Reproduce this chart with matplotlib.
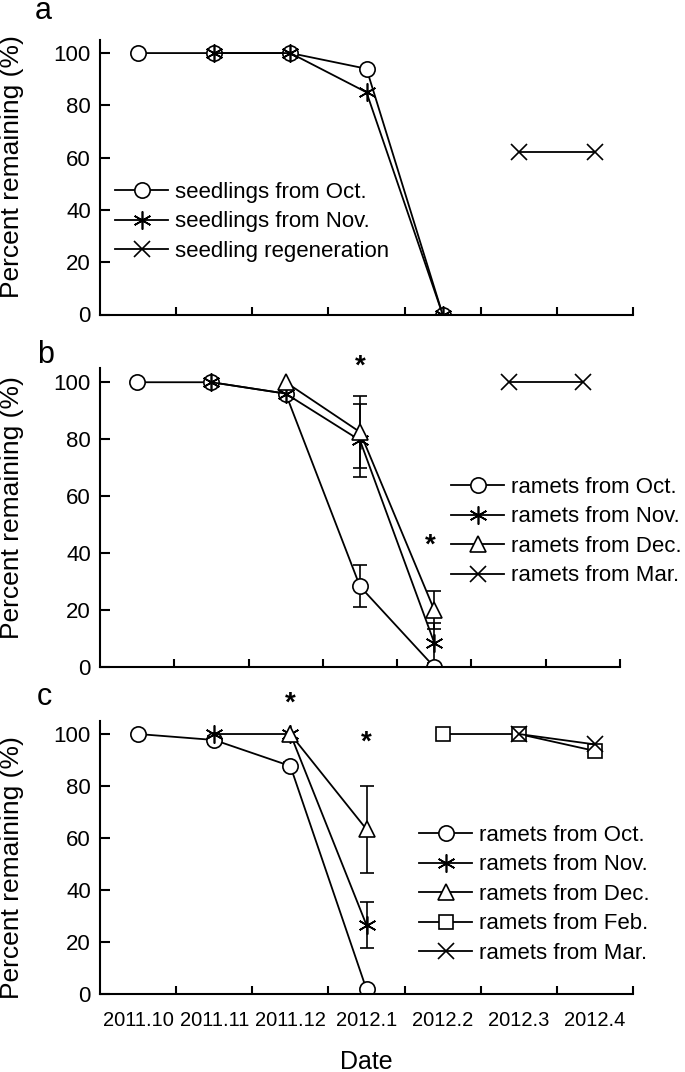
import numpy as np
import matplotlib
matplotlib.use("Agg")
import matplotlib.pyplot as plt

plt.rcParams["font.family"] = ["Liberation Sans", "DejaVu Sans"]

nan = np.nan

# ====== data ======
months = ["2011.10", "2011.11", "2011.12", "2012.1", "2012.2", "2012.3", "2012.4"]

# panel a: seedlings
a_oct = [100, 100, 100, 94, 0, nan, nan]
a_nov = [nan, 100, 100, 85, 0, nan, nan]
a_regen = [nan, nan, nan, nan, nan, 62, 62]

# panel b: ramets
b_oct = [100, 100, 96, 28.3, 0, nan, nan]
b_oct_err = [0, 0, 0, 7.4, 0, 0, 0]
b_nov = [nan, 100, 96, 79.6, 8.5, nan, nan]
b_nov_err = [0, 0, 0, 12.8, 7.0, 0, 0]
b_dec = [nan, nan, 100, 82.5, 20, nan, nan]
b_dec_err = [0, 0, 0, 12.5, 6.6, 0, 0]
b_mar = [nan, nan, nan, nan, nan, 100, 100]

# panel c: ramets
c_oct = [100, 97.7, 87.7, 1.9, nan, nan, nan]
c_oct_err = [0, 1.5, 1.5, 1.0, 0, 0, 0]
c_nov = [nan, 100, 100, 26.6, nan, nan, nan]
c_nov_err = [0, 0, 0, 9.0, 0, 0, 0]
c_dec = [nan, nan, 100, 63.4, nan, nan, nan]
c_dec_err = [0, 0, 0, 16.7, 0, 0, 0]
c_feb = [nan, nan, nan, nan, 100, 100, 93.5]
c_feb_err = [0, 0, 0, 0, 0, 0, 1.5]
c_mar = [nan, nan, nan, nan, nan, 100, 96]

# significance marks (x index, y value)
b_sig = [(3.5, 105.5), (4.45, 42.7)]
c_sig = [(2.5, 111.7), (3.5, 96.7)]

W, H = 685, 1072
fig = plt.figure(figsize=(W / 100, H / 100), dpi=100)

def box(x0, y0, x1, y1):
    return [x0 / W, 1 - y1 / H, (x1 - x0) / W, (y1 - y0) / H]

ax_a = fig.add_axes(box(100, 40, 633, 314.5))
ax_b = fig.add_axes(box(100, 368, 620, 667))
ax_c = fig.add_axes(box(100, 721, 633, 994.3))

x = np.arange(len(months)) + 0.5
STAR = (6, 2, 0)
sty = dict(color="black", lw=1.3, mec="black", mfc="white", mew=1.2)
mk = {"o": dict(marker="o", ms=11), "*": dict(marker=STAR, ms=13),
      "^": dict(marker="^", ms=12), "s": dict(marker="s", ms=10.5),
      "x": dict(marker="x", ms=12)}

def series(ax, y, m, label, err=None):
    y = np.array(y, dtype=float)
    if err is not None:
        e = np.array(err, dtype=float)
        ok = (e > 0) & ~np.isnan(y)
        ax.errorbar(x[ok], y[ok], yerr=e[ok], fmt="none", ecolor="black",
                    elinewidth=1.2, capsize=5, capthick=1.2, zorder=1.5)
    ax.plot(x, y, label=label, **sty, **mk[m])

def style(ax, show_x=False):
    ax.set_xlim(0, 7)
    ax.set_ylim(0, 105)
    for s in ["top", "right"]:
        ax.spines[s].set_visible(False)
    for s in ["left", "bottom"]:
        ax.spines[s].set_linewidth(1.5)
    ax.set_yticks([0, 20, 40, 60, 80, 100])
    ax.tick_params(axis="y", direction="in", length=7, width=1.5,
                   labelsize=16, pad=6.5)
    ax.set_xticks(x)
    ax.set_xticks(np.arange(1, 8), minor=True)
    ax.tick_params(axis="x", which="major", length=0, labelsize=14.5, pad=12)
    ax.tick_params(axis="x", which="minor", direction="in", length=5.5, width=1.5)
    if show_x:
        ax.set_xticklabels(months)
    else:
        ax.set_xticklabels([])

leg_kw = dict(frameon=False, fontsize=16, handlelength=2.4, handletextpad=0.3,
              labelspacing=0.38, borderpad=0, borderaxespad=0, loc="upper left",
              bbox_transform=fig.transFigure)

# panel a
series(ax_a, a_oct, "o", "seedlings from Oct.")
series(ax_a, a_nov, "*", "seedlings from Nov.")
series(ax_a, a_regen, "x", "seedling regeneration")
style(ax_a)
ax_a.legend(bbox_to_anchor=(115 / W, 1 - 182 / H), **leg_kw)

# panel b
series(ax_b, b_oct, "o", "ramets from Oct.", b_oct_err)
series(ax_b, b_nov, "*", "ramets from Nov.", b_nov_err)
series(ax_b, b_dec, "^", "ramets from Dec.", b_dec_err)
series(ax_b, b_mar, "x", "ramets from Mar.")
style(ax_b)
ax_b.legend(bbox_to_anchor=(451 / W, 1 - 477 / H), **leg_kw)
for sx, sy in b_sig:
    ax_b.text(sx, sy, "*", ha="center", va="center", fontsize=20,
              fontweight="bold", clip_on=False)

# panel c
series(ax_c, c_oct, "o", "ramets from Oct.", c_oct_err)
series(ax_c, c_nov, "*", "ramets from Nov.", c_nov_err)
series(ax_c, c_dec, "^", "ramets from Dec.", c_dec_err)
series(ax_c, c_feb, "s", "ramets from Feb.", c_feb_err)
series(ax_c, c_mar, "x", "ramets from Mar.")
style(ax_c, show_x=True)
ax_c.legend(bbox_to_anchor=(419 / W, 1 - 825 / H), **leg_kw)
for sx, sy in c_sig:
    ax_c.text(sx, sy, "*", ha="center", va="center", fontsize=20,
              fontweight="bold", clip_on=False)

# labels
for yc in [167, 508, 868]:
    fig.text(12 / W, 1 - yc / H, "Percent remaining (%)", rotation=90,
             ha="center", va="center", fontsize=19)
for letter, lx, ly in [("a", 35, 19), ("b", 37, 363), ("c", 37, 705)]:
    fig.text(lx / W, 1 - ly / H, letter, fontsize=22, va="baseline", ha="left")
fig.text(366 / W, 1 - 1069 / H, "Date", ha="center", va="baseline", fontsize=18)

fig.savefig("out.png", dpi=100)
